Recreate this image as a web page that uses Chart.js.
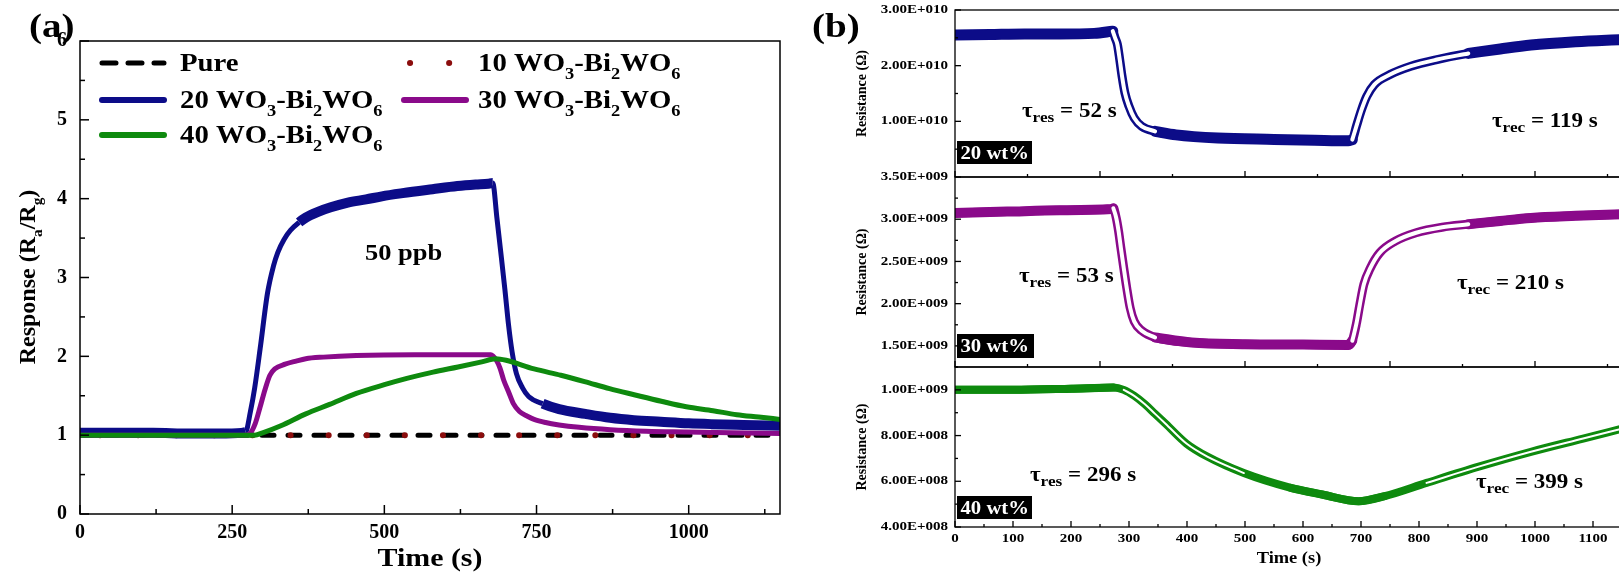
<!DOCTYPE html>
<html>
<head>
<meta charset="utf-8">
<title>WO3-Bi2WO6 response and resistance</title>
<script src="https://cdn.jsdelivr.net/npm/chart.js@4.4.1/dist/chart.umd.min.js"></script>
<style>
  html, body { margin: 0; padding: 0; background: #fff; }
  body { width: 1619px; height: 575px; overflow: hidden; position: relative; }
  canvas { position: absolute; left: 0; top: 0; }
</style>
</head>
<body>
<canvas id="chartA" width="1625" height="575"></canvas>
<canvas id="chartB1" width="1625" height="575"></canvas>
<canvas id="chartB2" width="1625" height="575"></canvas>
<canvas id="chartB3" width="1625" height="575"></canvas>
<script>
// ---------- panel (a): response Ra/Rg vs time, 50 ppb ----------
const pureT = [0, 1150];
const pureR = [1.0, 1.0];
const wo10T = [0, 1150];
const wo10R = [1.0, 1.0];
const wo20T = [0, 60, 120, 180, 240, 272, 280, 287, 296, 308, 318, 325, 335, 346, 360, 371, 390, 412, 440, 470, 496, 530, 579, 620, 650, 671, 678, 685, 691, 698, 704, 710, 717, 727, 737, 760, 787, 830, 871, 910, 954, 1000, 1037, 1090, 1150];
const wo20R = [1.03, 1.03, 1.03, 1.02, 1.02, 1.04, 1.3, 1.6, 2.1, 2.8, 3.15, 3.32, 3.48, 3.6, 3.7, 3.76, 3.83, 3.89, 3.95, 3.99, 4.03, 4.07, 4.12, 4.16, 4.18, 4.19, 4.2, 3.75, 3.34, 2.85, 2.4, 2.05, 1.78, 1.6, 1.49, 1.4, 1.33, 1.27, 1.22, 1.19, 1.17, 1.15, 1.14, 1.13, 1.12];
const wo30T = [0, 100, 200, 270, 279, 288, 296, 304, 312, 320, 337, 355, 371, 400, 454, 550, 675, 684, 690, 696, 704, 712, 722, 735, 746, 765, 787, 820, 871, 930, 996, 1070, 1150];
const wo30R = [1.0, 1.0, 1.0, 1.0, 1.02, 1.15, 1.36, 1.58, 1.76, 1.84, 1.9, 1.94, 1.97, 1.99, 2.01, 2.02, 2.02, 1.95, 1.85, 1.7, 1.55, 1.4, 1.3, 1.24, 1.2, 1.16, 1.13, 1.1, 1.07, 1.05, 1.04, 1.03, 1.02];
const wo40T = [0, 100, 200, 280, 287, 300, 330, 371, 410, 454, 500, 537, 580, 621, 660, 683, 700, 746, 790, 829, 870, 912, 955, 996, 1040, 1079, 1115, 1150];
const wo40R = [1.0, 1.0, 1.0, 1.0, 1.0, 1.03, 1.12, 1.27, 1.39, 1.53, 1.64, 1.72, 1.8, 1.865, 1.93, 1.97, 1.95, 1.84, 1.76, 1.68, 1.59, 1.51, 1.43, 1.36, 1.31, 1.26, 1.23, 1.2];
// stretches where the 20 wt% trace is a wide noisy band
const wo20Noisy = [[0, 272], [360, 678], [760, 1150]];
const respTicks = [0, 1, 2, 3, 4, 5, 6];
const respMinor = [0.5, 1.5, 2.5, 3.5, 4.5, 5.5];
const timeTicksA = [0, 250, 500, 750, 1000];
const timeMinorA = [125, 375, 625, 875, 1125];

// ---------- panel (b): resistance vs time ----------
const res20T = [0, 60, 120, 180, 240, 272, 276, 280, 284, 288, 293, 300, 309, 322, 345, 381, 453, 550, 620, 678, 685, 692, 701, 710, 723, 750, 786, 831, 885, 940, 993, 1070, 1150];
const res20R = [2.55e10, 2.56e10, 2.57e10, 2.57e10, 2.58e10, 2.62e10, 2.50e10, 2.38e10, 2.11e10, 1.81e10, 1.51e10, 1.27e10, 1.06e10, 0.91e10, 0.82e10, 0.757e10, 0.70e10, 0.675e10, 0.66e10, 0.65e10, 0.67e10, 0.91e10, 1.21e10, 1.45e10, 1.66e10, 1.84e10, 1.99e10, 2.11e10, 2.22e10, 2.30e10, 2.37e10, 2.43e10, 2.47e10];
const res30T = [0, 90, 180, 270, 273, 278, 282, 286, 291, 296, 302, 309, 322, 345, 408, 500, 600, 678, 685, 692, 698, 705, 716, 732, 759, 795, 840, 885, 940, 993, 1070, 1150];
const res30R = [3.075e9, 3.09e9, 3.105e9, 3.12e9, 3.13e9, 3.015e9, 2.86e9, 2.66e9, 2.42e9, 2.19e9, 1.95e9, 1.79e9, 1.68e9, 1.60e9, 1.54e9, 1.52e9, 1.515e9, 1.51e9, 1.56e9, 1.76e9, 1.99e9, 2.23e9, 2.42e9, 2.60e9, 2.74e9, 2.84e9, 2.905e9, 2.94e9, 2.98e9, 3.015e9, 3.04e9, 3.06e9];
const res40T = [0, 100, 200, 273, 291, 309, 327, 345, 363, 399, 435, 498, 579, 633, 696, 741, 813, 903, 993, 1083, 1150];
const res40R = [1.0e9, 1.0e9, 1.005e9, 1.01e9, 1.0e9, 0.974e9, 0.938e9, 0.895e9, 0.852e9, 0.765e9, 0.708e9, 0.636e9, 0.571e9, 0.542e9, 0.513e9, 0.535e9, 0.593e9, 0.664e9, 0.729e9, 0.787e9, 0.83e9];
// parts drawn as open circles (transients)
const res20Open = [[272, 345], [685, 885]];
const res30Open = [[273, 345], [685, 885]];
const res40Open = [[280, 560], [760, 1150]];
const res20Ticks = [1e10, 2e10, 3e10];
const res20Labels = ['1.00E+010', '2.00E+010', '3.00E+010'];
const res20Minor = [0.5e10, 1.5e10, 2.5e10];
const res30Ticks = [1.5e9, 2.0e9, 2.5e9, 3.0e9, 3.5e9];
const res30Labels = ['1.50E+009', '2.00E+009', '2.50E+009', '3.00E+009', '3.50E+009'];
const res30Minor = [1.25e9, 1.75e9, 2.25e9, 2.75e9, 3.25e9];
const res40Ticks = [4e8, 6e8, 8e8, 1e9];
const res40Labels = ['4.00E+008', '6.00E+008', '8.00E+008', '1.00E+009'];
const res40Minor = [5e8, 7e8, 9e8, 1.1e9];
const timeTicksB = [0, 100, 200, 300, 400, 500, 600, 700, 800, 900, 1000, 1100];
const timeMinorB = [50, 150, 250, 350, 450, 550, 650, 750, 850, 950, 1050, 1150];

const tauRes = ['52', '53', '296'];
const tauRec = ['119', '210', '399'];
const wtLabels = ['20 wt%', '30 wt%', '40 wt%'];

// ---------- styling / layout ----------
const W = 1625, H = 575;
const serif = '"Liberation Serif", "Times New Roman", serif';
const navy = '#0c0c88', purple = '#8a0a8a', green = '#0e8a0e', darkRed = '#8b0d0d';
Chart.defaults.font.family = serif;
Chart.defaults.color = '#000';

const sub = t => ({t, sub: true});
const inRanges = (ranges, x) => ranges.some(([a, b]) => x >= a && x <= b);
const inside = (ranges, x) => ranges.some(([a, b]) => x > a && x < b);
const xy = (t, v) => t.map((x, i) => ({x, y: v[i]}));
const xyWhere = (t, v, keep) => t.map((x, i) => ({x, y: keep(x) ? v[i] : null}));

function richText(ctx, x, y, parts, size, o = {}) {
  const sx = o.sx ?? 1.15, subScale = o.subScale ?? 0.64, subDy = o.subDy ?? size * 0.3;
  ctx.save();
  ctx.translate(x, y);
  if (o.rot) ctx.rotate(o.rot);
  ctx.scale(sx, 1);
  ctx.textBaseline = o.baseline || 'alphabetic';
  ctx.textAlign = 'left';
  let w = 0;
  const segs = parts.map(p => {
    const s = typeof p === 'string' ? {t: p} : p;
    const font = `bold ${s.sub ? size * subScale : size}px ${serif}`;
    ctx.font = font;
    const seg = {t: s.t, font, dx: w, dy: s.sub ? subDy : 0};
    w += ctx.measureText(s.t).width;
    return seg;
  });
  const x0 = o.align === 'center' ? -w / 2 : o.align === 'right' ? -w : 0;
  ctx.fillStyle = o.color || '#000';
  segs.forEach(s => { ctx.font = s.font; ctx.fillText(s.t, x0 + s.dx, s.dy); });
  ctx.restore();
}

// box around the plot, inward ticks on bottom and left, optional stretched tick labels
function frame(f) {
  return {
    id: 'frame',
    afterDraw(chart) {
      const {ctx, chartArea: a, scales: {x, y}} = chart;
      ctx.save();
      ctx.strokeStyle = '#000';
      ctx.lineWidth = f.lw;
      ctx.strokeRect(a.left, a.top, a.right - a.left, a.bottom - a.top);
      const tick = (px, py, dx, dy) => { ctx.beginPath(); ctx.moveTo(px, py); ctx.lineTo(px + dx, py + dy); ctx.stroke(); };
      f.xMajor.forEach(v => tick(x.getPixelForValue(v), a.bottom, 0, -f.major));
      f.xMinor.forEach(v => tick(x.getPixelForValue(v), a.bottom, 0, -f.minor));
      f.yMajor.forEach(v => tick(a.left, y.getPixelForValue(v), f.major, 0));
      f.yMinor.forEach(v => tick(a.left, y.getPixelForValue(v), f.minor, 0));
      ctx.restore();
      if (f.yLabels) f.yMajor.forEach((v, i) =>
        richText(ctx, a.left - f.yPad, y.getPixelForValue(v), [f.yLabels[i]], f.ySize, {sx: f.sx, align: 'right', baseline: 'middle'}));
      if (f.xLabels) f.xMajor.forEach((v, i) =>
        richText(ctx, x.getPixelForValue(v), a.bottom + f.xOff, [f.xLabels[i]], f.xSize, {sx: f.sx, align: 'center', baseline: 'middle'}));
    }
  };
}
const notes = draw => ({id: 'notes', afterDraw(chart) { draw(chart.ctx); }});

function axis(min, max, vals, o) {
  return {
    type: 'linear', min, max,
    afterBuildTicks: s => { s.ticks = vals.map(value => ({value})); },
    afterFit: s => { if (o.horiz) s.height = o.fit; else s.width = o.fit; },
    grid: {display: false, drawTicks: false},
    border: {display: false},
    ticks: {
      display: o.show !== false, padding: o.pad || 0, autoSkip: false, maxRotation: 0,
      font: {family: serif, size: o.size || 12, weight: 'bold'}, color: '#000',
      callback: v => String(v)
    }
  };
}

function baseOptions(area, yw, xh, scales) {
  return {
    responsive: false, animation: false, events: [],
    layout: {padding: {left: area.l - yw, top: area.t, right: W - area.r, bottom: H - area.b - xh}},
    elements: {
      point: {radius: 0},
      line: {cubicInterpolationMode: 'monotone', borderCapStyle: 'round', borderJoinStyle: 'round', fill: false}
    },
    plugins: {legend: {display: false}, tooltip: {enabled: false}},
    scales
  };
}

// ---------- chart (a) ----------
const areaA = {l: 80, r: 780, t: 41, b: 514};
const legendNames = [
  ['Pure'],
  ['10 WO', sub('3'), '-Bi', sub('2'), 'WO', sub('6')],
  ['20 WO', sub('3'), '-Bi', sub('2'), 'WO', sub('6')],
  ['30 WO', sub('3'), '-Bi', sub('2'), 'WO', sub('6')],
  ['40 WO', sub('3'), '-Bi', sub('2'), 'WO', sub('6')]
];
const legendStyle = [
  {color: '#000', width: 5, dash: [14, 12], from: 100},
  {color: darkRed, width: 6, dash: [0.1, 39], from: 408},
  {color: navy, width: 6, dash: [], from: 100},
  {color: purple, width: 6, dash: [], from: 402},
  {color: green, width: 6, dash: [], from: 100}
];
const legendRows = [63, 63, 100, 100, 135];

function drawNotesA(ctx) {
  legendNames.forEach((name, i) => {
    const st = legendStyle[i], y = legendRows[i];
    const col = i % 2 === 0 ? 100 : 402;
    ctx.save();
    ctx.strokeStyle = st.color; ctx.lineWidth = st.width; ctx.lineCap = 'round';
    ctx.setLineDash(st.dash);
    ctx.beginPath(); ctx.moveTo(st.from + 2, y); ctx.lineTo(col + 64, y); ctx.stroke();
    ctx.restore();
    richText(ctx, col + (i % 2 === 0 ? 80 : 76), y + 8, name, 25);
  });
  richText(ctx, 365, 260, ['50 ppb'], 23);
  richText(ctx, 430, 566, ['Time (s)'], 26, {align: 'center'});
  richText(ctx, 35, 277, ['Response (R', sub('a'), '/R', sub('g'), ')'], 24, {align: 'center', rot: -Math.PI / 2, sx: 1});
  richText(ctx, 29, 37, ['(a)'], 34);
}

new Chart(document.getElementById('chartA'), {
  type: 'line',
  data: {datasets: [
    {data: xy(wo40T, wo40R), borderColor: green, borderWidth: 5},
    {data: xy(wo30T, wo30R), borderColor: purple, borderWidth: 5},
    {data: xy(wo20T, wo20R), borderColor: navy, borderWidth: 5, borderCapStyle: 'butt',
      segment: {borderWidth: c => inRanges(wo20Noisy, c.p0.parsed.x) && inRanges(wo20Noisy, c.p1.parsed.x) ? 10 : 5}},
    {data: xy(wo10T, wo10R), borderColor: darkRed, borderWidth: 6, borderDash: [0.1, 38], borderDashOffset: -20},
    {data: xy(pureT, pureR), borderColor: '#000', borderWidth: 5, borderDash: [12, 14]}
  ]},
  options: baseOptions(areaA, 60, 40, {
    x: axis(0, 1150, timeTicksA, {horiz: true, fit: 40, pad: 7, size: 20}),
    y: axis(0, 6, respTicks, {fit: 60, pad: 13, size: 20})
  }),
  plugins: [frame({lw: 1.5, major: 9, minor: 5, xMajor: timeTicksA, xMinor: timeMinorA, yMajor: respTicks, yMinor: respMinor}), notes(drawNotesA)]
});

// ---------- charts (b) ----------
const subplots = [
  {id: 'chartB1', area: {l: 955, r: 1622, t: 10, b: 177}, t: res20T, r: res20R, open: res20Open, color: navy,
    band: 11, trace: 9, core: 4, min: 0, max: 3e10, ticks: res20Ticks, labels: res20Labels, minor: res20Minor, bottom: false,
    box: [957, 141, 75, 23], tauRes: [1022, 117], tauRec: [1492, 127]},
  {id: 'chartB2', area: {l: 955, r: 1622, t: 177, b: 367}, t: res30T, r: res30R, open: res30Open, color: purple,
    band: 10, trace: 9, core: 4, min: 1.25e9, max: 3.5e9, ticks: res30Ticks, labels: res30Labels, minor: res30Minor, bottom: false,
    box: [957, 334, 77, 24], tauRes: [1019, 282], tauRec: [1457, 289]},
  {id: 'chartB3', area: {l: 955, r: 1622, t: 367, b: 527}, t: res40T, r: res40R, open: res40Open, color: green,
    band: 8, trace: 8, core: 2, min: 4e8, max: 1.1e9, ticks: res40Ticks, labels: res40Labels, minor: res40Minor, bottom: true,
    box: [957, 496, 75, 23], tauRes: [1030, 481], tauRec: [1476, 488]}
];

subplots.forEach((p, k) => {
  const drawNotes = ctx => {
    ctx.fillStyle = '#000';
    ctx.fillRect(...p.box);
    richText(ctx, p.box[0] + 3.5, p.box[1] + p.box[3] / 2 + 6, [wtLabels[k]], 18, {color: '#fff'});
    richText(ctx, p.tauRes[0], p.tauRes[1], ['τ', sub('res'), ' = ' + tauRes[k] + ' s'], 20, {subScale: 0.75, subDy: 5});
    richText(ctx, p.tauRec[0], p.tauRec[1], ['τ', sub('rec'), ' = ' + tauRec[k] + ' s'], 20, {subScale: 0.75, subDy: 5});
    richText(ctx, 866, (p.area.t + p.area.b) / 2, ['Resistance (Ω)'], 14, {align: 'center', rot: -Math.PI / 2, sx: 1});
    if (p.bottom) richText(ctx, 1289, 563, ['Time (s)'], 16, {align: 'center'});
    if (k === 0) richText(ctx, 812, 37, ['(b)'], 34);
  };
  new Chart(document.getElementById(p.id), {
    type: 'line',
    data: {datasets: [
      {data: xyWhere(p.t, p.r, x => inRanges(p.open, x)), borderColor: '#fff', borderWidth: p.core},
      {data: xy(p.t, p.r), borderColor: p.color, borderWidth: p.trace},
      {data: xyWhere(p.t, p.r, x => !inside(p.open, x)), borderColor: p.color, borderWidth: p.band}
    ]},
    options: baseOptions(p.area, 70, 0, {
      x: axis(0, 1150, timeTicksB, {horiz: true, fit: 0, show: false}),
      y: axis(p.min, p.max, p.ticks, {fit: 70, show: false})
    }),
    plugins: [frame({lw: 1.3, major: 6, minor: 3,
      xMajor: p.bottom ? timeTicksB : timeTicksA, xMinor: p.bottom ? timeMinorB : timeMinorA,
      yMajor: p.ticks, yMinor: p.minor,
      yLabels: p.labels, yPad: 7, ySize: 12, sx: 1.25,
      xLabels: p.bottom ? timeTicksB.map(String) : null, xOff: 11.5, xSize: 12}), notes(drawNotes)]
  });
});
</script>
</body>
</html>
